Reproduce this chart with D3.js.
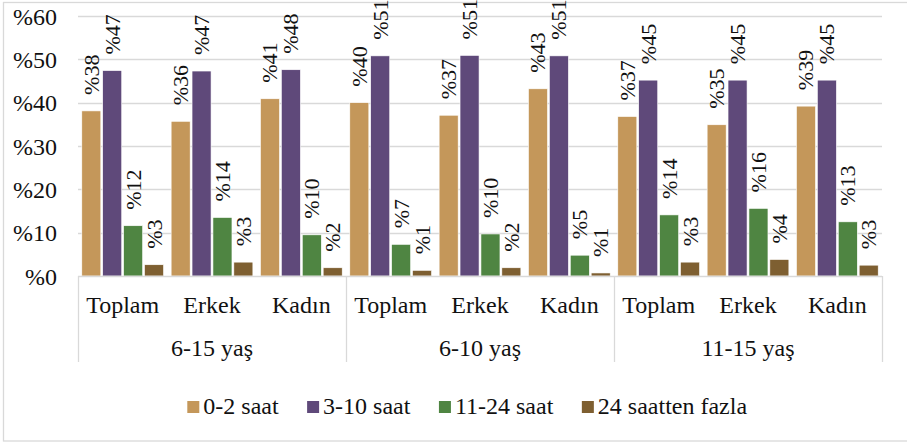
<!DOCTYPE html>
<html><head><meta charset="utf-8">
<script src="https://cdn.jsdelivr.net/npm/d3@7"></script>
<style>
html,body{margin:0;padding:0;background:#fff;}
</style></head>
<body>
<svg id="chart" width="907" height="443"></svg>
<script>
const groups = ["6-15 yaş", "6-10 yaş", "11-15 yaş"];
const subcats = ["Toplam", "Erkek", "Kadın"];
const seriesNames = ["0-2 saat", "3-10 saat", "11-24 saat", "24 saatten fazla"];
const s0_2 = [38.1, 35.7, 40.9, 40.0, 37.1, 43.2, 36.8, 34.9, 39.2];
const s3_10 = [47.4, 47.3, 47.6, 50.8, 50.9, 50.8, 45.2, 45.2, 45.2];
const s11_24 = [11.6, 13.5, 9.5, 7.3, 9.7, 4.8, 14.1, 15.6, 12.5];
const s24plus = [2.6, 3.2, 1.9, 1.3, 1.9, 0.7, 3.2, 3.8, 2.5];
const yTicks = [0, 10, 20, 30, 40, 50, 60];
const colors = ["#C4975A", "#5F497A", "#4F8542", "#7E5F31"];

const FONT = "'Liberation Serif', 'Times New Roman', Tinos, serif";
const seriesVals = [s0_2, s3_10, s11_24, s24plus];
const cats = [];
groups.forEach((g, gi) => subcats.forEach((s, si) => cats.push({key: gi + "-" + si, g, s, i: gi * 3 + si})));

const svg = d3.select("#chart");
const pLeft = 78, pRight = 882, pTop = 16, pBottom = 276;
const grid = "#D9D9D9";
function txt(sel, size) {
  return sel.attr("font-family", FONT).style("font-family", FONT).style("font-size", size + "px").attr("fill", "#111");
}

// outer border
svg.append("rect").attr("x", 3.5).attr("y", 2.5).attr("width", 915).attr("height", 438.5)
  .attr("fill", "none").attr("stroke", grid).attr("stroke-width", 1.3);

const y = d3.scaleLinear().domain([0, 60]).range([pBottom, pTop]);
const x0 = d3.scaleBand().domain(cats.map(c => c.key)).range([pLeft, pRight]).padding(0);
const x1 = d3.scaleBand().domain(seriesNames).range([3.8, x0.bandwidth() - 3.8]).paddingInner(0.09);
const xg = d3.scaleBand().domain(groups).range([pLeft, pRight]).padding(0);

// gridlines
svg.append("g").selectAll("line").data(yTicks.filter(t => t > 0)).join("line")
  .attr("x1", pLeft).attr("x2", pRight)
  .attr("y1", d => Math.round(y(d)) + 0.5).attr("y2", d => Math.round(y(d)) + 0.5)
  .attr("stroke", grid).attr("stroke-width", 1.3);

// y axis labels
const yAxis = d3.axisLeft(y).tickValues(yTicks).tickFormat(d => "%" + d).tickSize(0).tickPadding(0);
const yg = svg.append("g").attr("transform", `translate(${pLeft - 21},0)`).call(yAxis);
yg.attr("font-family", FONT);
yg.select(".domain").remove();
txt(yg.selectAll("text"), 24).attr("dy", "0.34em");

// bars
const barG = svg.append("g");
seriesNames.forEach((sn, si) => {
  barG.selectAll(null).data(cats).join("rect")
    .attr("x", c => x0(c.key) + x1(sn))
    .attr("width", x1.bandwidth())
    .attr("y", c => y(seriesVals[si][c.i]))
    .attr("height", c => y(0) - y(seriesVals[si][c.i]))
    .attr("fill", colors[si])
    .attr("stroke", "#fff").attr("stroke-width", 0.6);
});

// data labels
const lblG = svg.append("g");
seriesNames.forEach((sn, si) => {
  txt(lblG.selectAll(null).data(cats).join("text"), 22)
    .attr("transform", c => `translate(${x0(c.key) + x1(sn) + x1.bandwidth() / 2},${y(seriesVals[si][c.i]) - 16}) rotate(-90)`)
    .attr("text-anchor", "start")
    .attr("dy", "0.34em")
    .text(c => "%" + Math.round(seriesVals[si][c.i]));
});

// category axis box
svg.append("line").attr("x1", pLeft).attr("x2", pRight).attr("y1", pBottom + 0.5).attr("y2", pBottom + 0.5)
  .attr("stroke", grid).attr("stroke-width", 1.3);
const seps = groups.map(g => xg(g)).concat([pRight]);
svg.append("g").selectAll("line").data(seps).join("line")
  .attr("x1", d => Math.round(d) + 0.5).attr("x2", d => Math.round(d) + 0.5)
  .attr("y1", pBottom).attr("y2", 362)
  .attr("stroke", grid).attr("stroke-width", 1.3);

// category labels
txt(svg.append("g").selectAll("text").data(cats).join("text"), 24)
  .attr("x", c => x0(c.key) + x0.bandwidth() / 2).attr("y", 313)
  .attr("text-anchor", "middle").text(c => c.s);
txt(svg.append("g").selectAll("text").data(groups).join("text"), 24)
  .attr("x", g => xg(g) + xg.bandwidth() / 2).attr("y", 356)
  .attr("text-anchor", "middle").text(g => g);

// legend
const leg = svg.append("g");
let lx = 187.3;
seriesNames.forEach((sn, si) => {
  leg.append("rect").attr("x", lx).attr("y", 401).attr("width", 12).attr("height", 12).attr("fill", colors[si]);
  const t = txt(leg.append("text"), 24).attr("x", lx + 16).attr("y", 414).text(sn);
  const w = t.node().getComputedTextLength();
  lx += 16 + w + 28.5;
});
</script>
</body></html>
